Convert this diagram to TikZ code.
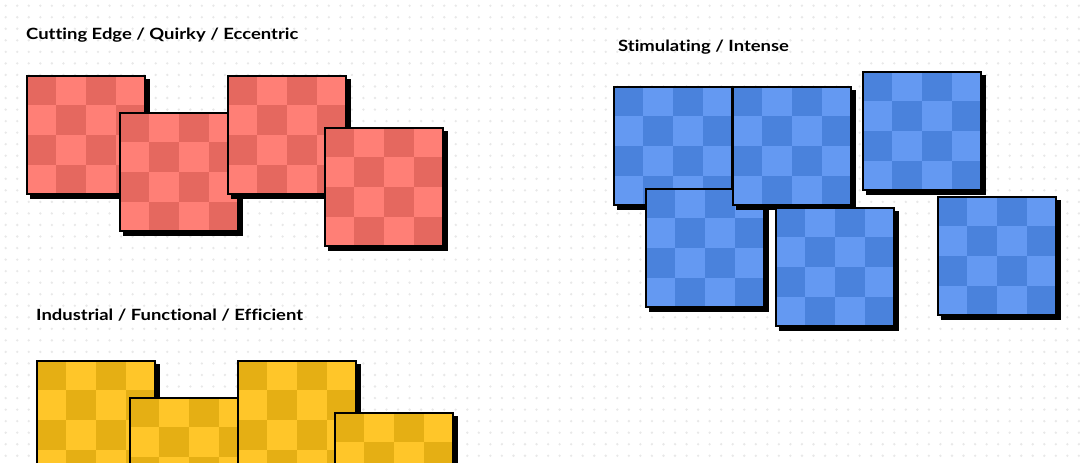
\documentclass[tikz,border=0pt]{standalone}
\usepackage{fontspec}
\setmainfont{Lato}[Ligatures=NoCommon]
\definecolor{dotc}{HTML}{E8E8E8}
\definecolor{redL}{HTML}{FF7F76}
\definecolor{redD}{HTML}{E5685F}
\definecolor{bluL}{HTML}{6499F2}
\definecolor{bluD}{HTML}{4A82DC}
\definecolor{yelL}{HTML}{FFC629}
\definecolor{yelD}{HTML}{E5AF14}
\tikzset{
  title/.style={anchor=base west,inner sep=0pt,font=\fontsize{15.5}{18}\selectfont\bfseries},
  tileedge/.style={draw=black,line width=2pt},
}
\newcommand\wide[1]{\scalebox{1.19}[1]{#1}}
\newcommand\chktile[3]{%
  \fill[black] (#1+4,#2+4) rectangle ++(120,120);
  \fill[#3L] (#1,#2) rectangle ++(120,120);
  \foreach \a/\b in {0/0,2/0,1/1,3/1,0/2,2/2,1/3,3/3}
    \fill[#3D] (#1+30*\a,#2+30*\b) rectangle ++(30,30);
  \draw[tileedge] (#1+1,#2+1) rectangle ++(118,118);
}
\begin{document}
\begin{tikzpicture}[x=1pt,y=-1pt]
\useasboundingbox (0,0) rectangle (1080,463);
\fill[white] (0,0) rectangle (1080,463);
\foreach \i in {0,...,93} \foreach \j in {0,...,39}
  \fill[dotc] (5.7+11.54*\i,5.7+11.54*\j) circle (1.3);
% titles
\node[title] (t1) at (26,39.5) {\wide{Cutting Edge / Quirky / Eccentric}};
\node[title] (t2) at (618,51) {\wide{Stimulating / Intense}};
\node[title] (t3) at (36,320) {\wide{Industrial / Functional / Efficient}};
% red
\chktile{26}{75}{red}
\chktile{119}{112}{red}
\chktile{227}{75}{red}
\chktile{324}{127}{red}
% blue
\chktile{613}{86}{blu}
\chktile{645}{188}{blu}
\chktile{732}{86}{blu}
\chktile{862}{71}{blu}
\chktile{775}{207}{blu}
\chktile{937}{196}{blu}
% yellow
\chktile{36}{360}{yel}
\chktile{129}{397}{yel}
\chktile{237}{360}{yel}
\chktile{334}{412}{yel}
\end{tikzpicture}
\end{document}
